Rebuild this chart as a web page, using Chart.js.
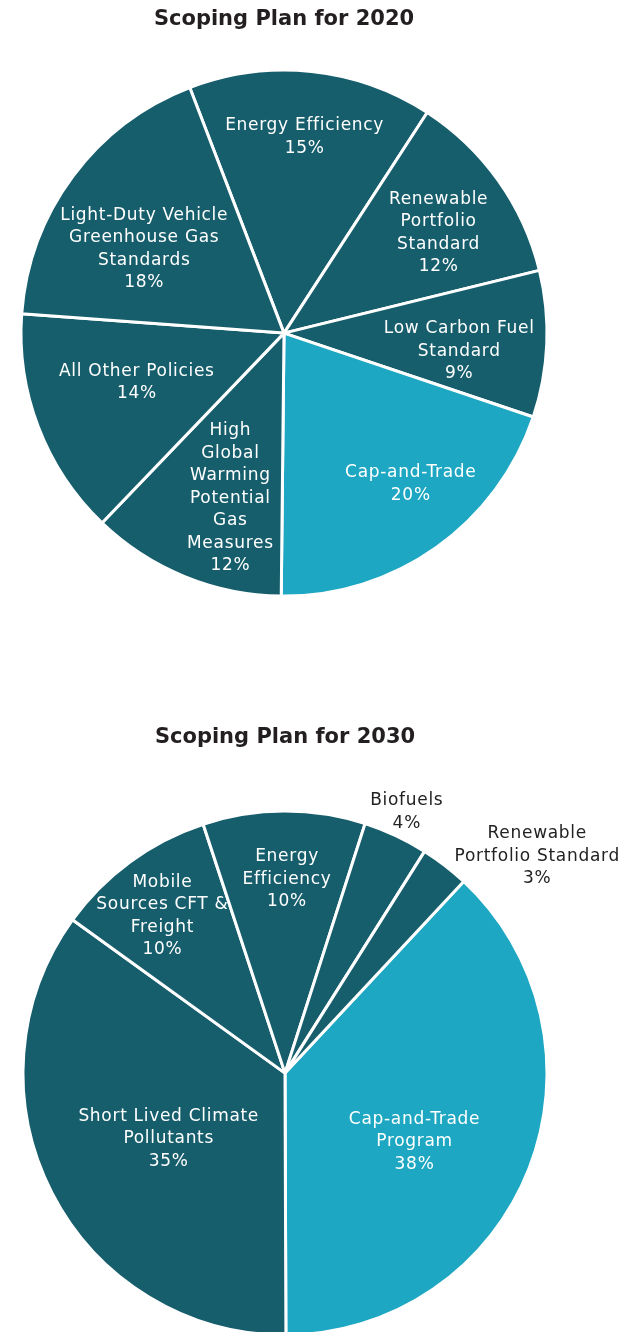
<!DOCTYPE html>
<html>
<head>
<meta charset="utf-8">
<script src="https://cdn.jsdelivr.net/npm/chart.js@4/dist/chart.umd.min.js"></script>
<style>
  body { margin: 0; width: 622px; height: 1332px; overflow: hidden; background: #fff; }
  .box { position: absolute; left: 0; width: 622px; }
</style>
</head>
<body>
<div class="box" style="top:0"><canvas id="chart2020" width="622" height="634"></canvas></div>
<div class="box" style="top:710px"><canvas id="chart2030" width="622" height="686"></canvas></div>
<script>
// 2020 plan, clockwise from Energy Efficiency
const categories2020 = [
  ['Energy Efficiency'],
  ['Renewable', 'Portfolio', 'Standard'],
  ['Low Carbon Fuel', 'Standard'],
  ['Cap-and-Trade'],
  ['High', 'Global', 'Warming', 'Potential', 'Gas', 'Measures'],
  ['All Other Policies'],
  ['Light-Duty Vehicle', 'Greenhouse Gas', 'Standards']
]
const values2020 = [15, 12, 9, 20, 12, 14, 18]

// 2030 plan, clockwise from Cap-and-Trade
const categories2030 = [
  ['Cap-and-Trade', 'Program'],
  ['Short Lived Climate', 'Pollutants'],
  ['Mobile', 'Sources CFT &', 'Freight'],
  ['Energy', 'Efficiency'],
  ['Biofuels'],
  ['Renewable', 'Portfolio Standard']
]
const values2030 = [38, 35, 10, 10, 4, 3]

const DARK = '#175e6c'
const LIGHT = '#1ea7c2'
const FONT = "'DejaVu Sans', sans-serif"

// label placement: fraction of radius, angle nudge in degrees
const place2020 = { frac: [0.75, 0.70, 0.67, 0.75, 0.66, 0.59, 0.62], nudge: [0, 2.5, 3.6, -4.6, -4.2, 2.5, -5.6], color: ['#fff','#fff','#fff','#fff','#fff','#fff','#fff'] }
const place2030 = { frac: [0.56, 0.51, 0.76, 0.74, 1.10, 1.27], nudge: [6.6, -2.3, -1.8, 0.8, 0, 11.7], color: ['#fff','#fff','#fff','#fff','#222','#222'] }

const sliceLabels = {
  id: 'sliceLabels',
  afterDatasetsDraw(chart, args, opts) {
    const ctx = chart.ctx
    const meta = chart.getDatasetMeta(0)
    const ds = chart.data.datasets[0]
    ctx.save()
    ctx.font = '17px ' + FONT
    ctx.letterSpacing = '0.7px'
    ctx.textAlign = 'center'
    ctx.textBaseline = 'middle'
    meta.data.forEach((arc, i) => {
      const p = arc.getProps(['x', 'y', 'startAngle', 'endAngle', 'outerRadius'], true)
      const a = (p.startAngle + p.endAngle) / 2 + opts.nudge[i] * Math.PI / 180
      const r = p.outerRadius * opts.frac[i]
      const cx = p.x + Math.cos(a) * r
      const cy = p.y + Math.sin(a) * r
      const lines = chart.data.labels[i].concat([ds.data[i] + '%'])
      const lh = 22.5
      ctx.fillStyle = opts.color[i]
      lines.forEach((t, k) => {
        ctx.fillText(t, cx, cy - (lines.length - 1) * lh / 2 + k * lh)
      })
    })
    ctx.restore()
  }
}

const makePie = (el, title, labels, data, colors, rotation, radius, titleTop, padRight, place) => {
  return new Chart(el, {
    type: 'pie',
    data: {
      labels: labels,
      datasets: [{
        data: data,
        backgroundColor: colors,
        borderColor: '#fff',
        borderWidth: 3
      }]
    },
    options: {
      responsive: false,
      animation: false,
      rotation: rotation,
      radius: radius,
      layout: { padding: { left: 0, right: padRight, top: 0, bottom: 0 } },
      plugins: {
        legend: { display: false },
        tooltip: { enabled: false },
        title: {
          display: true,
          text: title,
          color: '#231f20',
          font: { family: FONT, size: 21, weight: 'bold', lineHeight: 1.2 },
          padding: { top: titleTop - 1, bottom: 0 }
        },
        sliceLabels: place
      }
    },
    plugins: [sliceLabels]
  })
}

makePie(document.getElementById('chart2020'), 'Scoping Plan for 2020', categories2020, values2020,
  [DARK, DARK, DARK, LIGHT, DARK, DARK, DARK], -21, 263, 8, 54, place2020)
makePie(document.getElementById('chart2030'), 'Scoping Plan for 2030', categories2030, values2030,
  [LIGHT, DARK, DARK, DARK, DARK, DARK], 43, 262, 16, 52, place2030)
</script>
</body>
</html>
